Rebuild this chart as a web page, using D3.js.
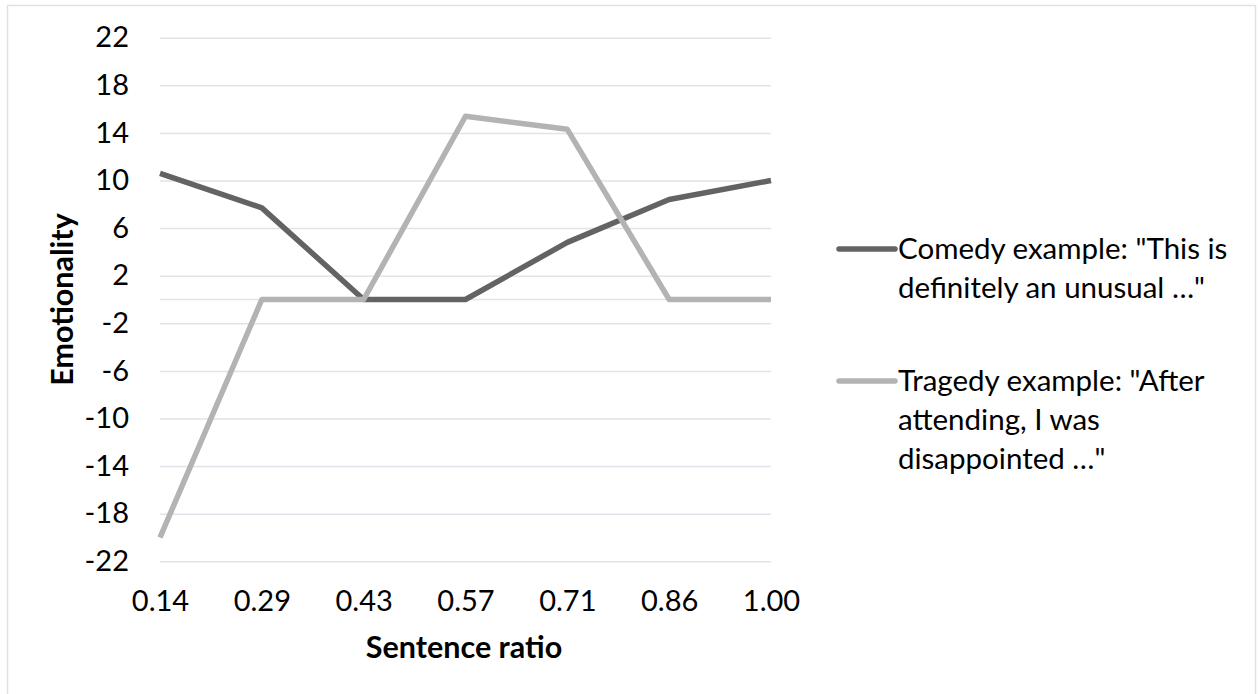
<!DOCTYPE html>
<html>
<head>
<meta charset="utf-8">
<script src="https://cdn.jsdelivr.net/npm/d3@7"></script>
<style>
  body { margin: 0; background: #fff; }
  svg { display: block; font-family: Lato, "Open Sans", sans-serif; }
</style>
</head>
<body>
<div id="chart"></div>
<script>
// values
var categories = ["0.14", "0.29", "0.43", "0.57", "0.71", "0.86", "1.00"];
var comedy = [10.6, 7.7, 0, 0, 4.8, 8.4, 10];
var tragedy = [-20, 0, 0, 15.4, 14.3, 0, 0];
var yTicks = [22, 18, 14, 10, 6, 2, -2, -6, -10, -14, -18, -22];
var comedyLabel = ["Comedy example: \"This is", "definitely an unusual …\""];
var tragedyLabel = ["Tragedy example: \"After", "attending, I was", "disappointed …\""];

var width = 1258, height = 694;
var plotLeft = 160, plotRight = 771, plotTop = 37.7, plotBottom = 561.3;

var svg = d3.select("#chart").append("svg")
  .attr("width", width)
  .attr("height", height);

// chart frame
svg.append("rect")
  .attr("x", 7.5).attr("y", 5.5)
  .attr("width", 1248).attr("height", 700)
  .attr("fill", "none")
  .attr("stroke", "#dde2e8")
  .attr("stroke-width", 1.5);

var x = d3.scalePoint().domain(categories).range([plotLeft, plotRight]);
var y = d3.scaleLinear().domain([-22, 22]).range([plotBottom, plotTop]);

// gridlines + y labels (plain hyphen for negatives, like the original)
var yAxis = d3.axisLeft(y)
  .tickValues(yTicks)
  .tickFormat(function(d) { return String(d); })
  .tickSize(-(plotRight - plotLeft))
  .tickPadding(31);
var gy = svg.append("g")
  .attr("transform", "translate(" + plotLeft + ",0)")
  .call(yAxis);
gy.select(".domain").remove();
gy.selectAll(".tick line").attr("stroke", "#dfe3ea").attr("stroke-width", 1.5);
gy.selectAll(".tick text")
  .attr("font-size", 29)
  .attr("fill", "#000")
  .attr("font-family", "Lato, sans-serif");

// horizontal axis line at zero
svg.append("line")
  .attr("x1", plotLeft).attr("x2", plotRight)
  .attr("y1", y(0)).attr("y2", y(0))
  .attr("stroke", "#dfe3ea").attr("stroke-width", 1.5);

// x labels
var xAxis = d3.axisBottom(x).tickSize(0).tickPadding(0);
var gx = svg.append("g")
  .attr("transform", "translate(0," + (plotBottom + 29) + ")")
  .call(xAxis);
gx.select(".domain").remove();
gx.selectAll(".tick text")
  .attr("font-size", 29)
  .attr("fill", "#000")
  .attr("font-family", "Lato, sans-serif")
  .attr("dy", "0.72em");

// lines
var line = d3.line()
  .x(function(d, i) { return x(categories[i]); })
  .y(function(d) { return y(d); });

svg.append("path")
  .datum(comedy)
  .attr("d", line)
  .attr("fill", "none")
  .attr("stroke", "#636363")
  .attr("stroke-width", 5.5)
  .attr("stroke-linejoin", "round");

svg.append("path")
  .datum(tragedy)
  .attr("d", line)
  .attr("fill", "none")
  .attr("stroke", "#b3b3b3")
  .attr("stroke-width", 5.5)
  .attr("stroke-linejoin", "round");

// axis titles
svg.append("text")
  .attr("x", 464).attr("y", 658)
  .attr("text-anchor", "middle")
  .attr("font-size", 30.5)
  .attr("font-weight", "bold")
  .text("Sentence ratio");

svg.append("text")
  .attr("transform", "translate(73," + y(0) + ") rotate(-90)")
  .attr("text-anchor", "middle")
  .attr("font-size", 30.5)
  .attr("font-weight", "bold")
  .text("Emotionality");

// legend
var legend = [
  { lines: comedyLabel, color: "#636363", y: 249 },
  { lines: tragedyLabel, color: "#b3b3b3", y: 381 }
];
legend.forEach(function(item) {
  svg.append("line")
    .attr("x1", 839).attr("x2", 895)
    .attr("y1", item.y).attr("y2", item.y)
    .attr("stroke", item.color)
    .attr("stroke-width", 5.5)
    .attr("stroke-linecap", "round");
  var t = svg.append("text")
    .attr("x", 898)
    .attr("y", item.y + 10)
    .attr("font-size", 29.5)
    .attr("fill", "#000");
  item.lines.forEach(function(s, i) {
    t.append("tspan")
      .attr("x", 898)
      .attr("dy", i == 0 ? 0 : 39)
      .text(s);
  });
});
</script>
</body>
</html>
